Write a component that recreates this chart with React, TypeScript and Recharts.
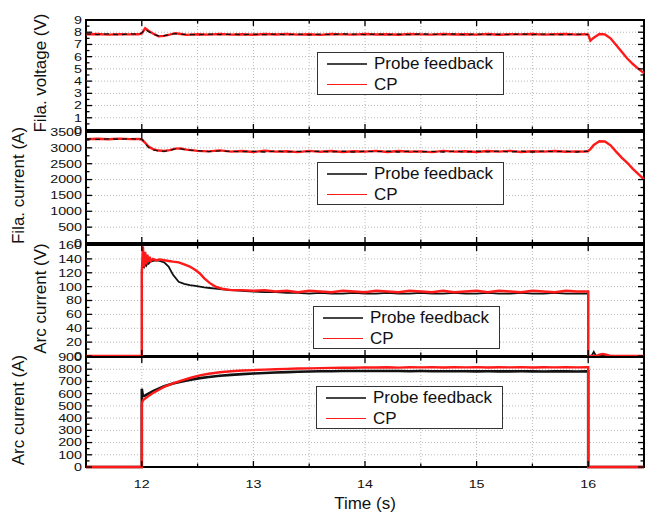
import React from "react";
import {
  LineChart,
  Line,
  XAxis,
  YAxis,
  CartesianGrid,
  ReferenceArea,
  ReferenceLine,
  Legend,
} from "recharts";

const FONT = '"Liberation Sans", Arial, Helvetica, sans-serif';
const W = 645;
const H = 512;
const PLOT_LEFT = 86;
const PLOT_RIGHT = 644;

const seriesNames = ["Probe feedback", "CP"];
const xMajor = [12, 13, 14, 15, 16];
const voltTicks = [0, 1, 2, 3, 4, 5, 6, 7, 8, 9];
const filaCurTicks = [0, 500, 1000, 1500, 2000, 2500, 3000, 3500];
const arcVTicks = [0, 20, 40, 60, 80, 100, 120, 140, 160];
const arcITicks = [0, 100, 200, 300, 400, 500, 600, 700, 800, 900];

// filament panels (voltage + current) share one time base
const filaTime = [
  11.5, 11.6, 11.7, 11.8, 11.9, 11.97, 12.0, 12.03, 12.06, 12.1,
  12.15, 12.2, 12.25, 12.3, 12.35, 12.4, 12.5, 12.6, 12.7, 12.8,
  12.9, 13.0, 13.1, 13.2, 13.3, 13.4, 13.5, 13.6, 13.7, 13.8,
  13.9, 14.0, 14.1, 14.2, 14.3, 14.4, 14.5, 14.6, 14.7, 14.8,
  14.9, 15.0, 15.1, 15.2, 15.3, 15.4, 15.5, 15.6, 15.7, 15.8,
  15.9, 15.97, 16.0, 16.02, 16.05, 16.1, 16.15, 16.2, 16.25, 16.3,
  16.35, 16.4, 16.45, 16.5,
];

const voltCP = [
  7.82, 7.85, 7.8, 7.84, 7.82, 7.83, 7.9, 8.32, 8.12, 7.9,
  7.66, 7.7, 7.8, 7.92, 7.85, 7.78, 7.84, 7.8, 7.86, 7.8,
  7.84, 7.79, 7.85, 7.81, 7.86, 7.8, 7.83, 7.78, 7.85, 7.82,
  7.8, 7.86, 7.81, 7.84, 7.79, 7.85, 7.82, 7.8, 7.86, 7.81,
  7.84, 7.8, 7.85, 7.79, 7.84, 7.82, 7.86, 7.8, 7.83, 7.85,
  7.8, 7.84, 7.8, 7.3, 7.55, 7.85, 7.82, 7.5, 6.95, 6.4,
  5.85, 5.4, 5.0, 4.65,
];

const voltProbe = [
  7.86, 7.81, 7.86, 7.8, 7.87, 7.82, 7.95, 8.25, 8.05, 7.85,
  7.7, 7.72, 7.82, 7.88, 7.82, 7.82, 7.8, 7.85, 7.81, 7.85,
  7.8, 7.84, 7.8, 7.85, 7.8, 7.85, 7.79, 7.84, 7.8, 7.86,
  7.85, 7.8, 7.86, 7.8, 7.84, 7.8, 7.86, 7.84, 7.8, 7.86,
  7.8, 7.85, 7.8, 7.84, 7.8, 7.86, 7.81, 7.85, 7.8, 7.8,
  7.85, 7.8, 7.82, null, null, null, null, null, null, null,
  null, null, null, null,
];

const filaCurCP = [
  3275, 3285, 3270, 3290, 3275, 3280, 3265, 3160, 3040, 2960,
  2915, 2900, 2930, 2975, 2980, 2945, 2905, 2890, 2920, 2880,
  2900, 2870, 2910, 2880, 2895, 2865, 2905, 2875, 2900, 2870,
  2895, 2880, 2905, 2870, 2900, 2875, 2890, 2865, 2905, 2880,
  2895, 2870, 2900, 2880, 2905, 2870, 2895, 2880, 2900, 2875,
  2890, 2880, 2900, 2960, 3090, 3210, 3200, 3080, 2880, 2690,
  2530, 2340, 2170, 2010,
];

const filaCurProbe = [
  3290, 3265, 3285, 3270, 3290, 3270, 3280, 3140, 3010, 2935,
  2900, 2890, 2920, 2965, 2970, 2935, 2915, 2880, 2905, 2890,
  2880, 2890, 2870, 2900, 2870, 2890, 2880, 2895, 2870, 2895,
  2870, 2895, 2880, 2895, 2870, 2895, 2875, 2890, 2870, 2895,
  2870, 2895, 2875, 2900, 2870, 2895, 2870, 2900, 2875, 2895,
  2870, 2895, 2880, null, null, null, null, null, null, null,
  null, null, null, null,
];

const arcVTime = [
  11.5, 12.0, 12.0, 12.01, 12.02, 12.03, 12.04, 12.05, 12.06, 12.07,
  12.08, 12.1, 12.13, 12.16, 12.2, 12.24, 12.28, 12.33, 12.38, 12.43,
  12.48, 12.52, 12.56, 12.61, 12.66, 12.72, 12.8, 12.9, 13.0, 13.1,
  13.2, 13.3, 13.4, 13.5, 13.6, 13.7, 13.8, 13.9, 14.0, 14.1,
  14.2, 14.3, 14.4, 14.5, 14.6, 14.7, 14.8, 14.9, 15.0, 15.1,
  15.2, 15.3, 15.4, 15.5, 15.6, 15.7, 15.8, 15.9, 15.99, 16.0,
  16.0, 16.03, 16.05, 16.07, 16.1, 16.13, 16.16, 16.2, 16.5,
];

const arcVCP = [
  0, 0, 120, 158, 128, 150, 132, 146, 136, 143,
  137, 140, 138, 139, 138, 137, 136, 135, 132, 129,
  124, 119, 112, 105, 100, 97, 95, 95, 94, 95,
  93, 94, 92, 94, 93, 92, 94, 93, 92, 94,
  93, 92, 94, 93, 92, 94, 92, 93, 94, 92,
  94, 93, 92, 94, 93, 92, 94, 93, 93, 93,
  0, 0, 0, 0, 2, 3, 2, 0, 0,
];

const arcVProbe = [
  0, 0, 125, 130, 128, 132, 130, 134, 133, 135,
  136, 137, 138, 137, 135, 129, 117, 107, 104, 102,
  101, 100, 99, 98, 97, 96, 95, 94, 93, 92,
  92, 91, 91, 90, 91, 90, 90, 91, 90, 90,
  91, 90, 90, 91, 90, 90, 91, 90, 90, 91,
  90, 90, 91, 90, 90, 91, 90, 90, 90, 90,
  0, 0, 6, 0, 0, 0, 0, 0, 0,
];

const arcITime = [
  11.5, 12.0, 12.0, 12.01, 12.03, 12.06, 12.1, 12.15, 12.2, 12.28,
  12.36, 12.44, 12.52, 12.6, 12.7, 12.8, 12.9, 13.0, 13.1, 13.2,
  13.3, 13.4, 13.5, 13.6, 13.7, 13.8, 13.9, 14.0, 14.1, 14.2,
  14.3, 14.4, 14.5, 14.6, 14.7, 14.8, 14.9, 15.0, 15.1, 15.2,
  15.3, 15.4, 15.5, 15.6, 15.7, 15.8, 15.9, 15.99, 16.0, 16.0,
  16.5,
];

const arcICP = [
  0, 0, 520, 545, 560, 580, 605, 630, 655, 684,
  708, 730, 750, 763, 775, 783, 789, 793, 797, 800,
  803, 806, 807, 809, 811, 813, 812, 815, 814, 816,
  813, 816, 815, 817, 814, 816, 815, 817, 814, 816,
  815, 817, 814, 816, 815, 817, 815, 816, 816, 0,
  0,
];

const arcIProbe = [
  0, 0, 640, 580, 585, 600, 620, 640, 660, 684,
  700, 714, 727, 737, 746, 754, 760, 765, 769, 773,
  776, 779, 781, 783, 784, 785, 786, 786, 785, 786,
  785, 784, 785, 784, 783, 784, 783, 782, 783, 782,
  782, 783, 782, 781, 782, 782, 781, 782, 782, 0,
  0,
];

function zip(time: number[], probe: (number | null)[], cp: number[]) {
  return time.map((t, i) => ({ t, probe: probe[i], cp: cp[i] }));
}

function withHalves(majors: number[]) {
  const out: number[] = [];
  majors.forEach((m, i) => {
    out.push(m);
    if (i < majors.length - 1) out.push((m + majors[i + 1]) / 2);
  });
  return out;
}

// the source figure has wide, short digits: small font stretched sideways
function TickText({ x, y, anchor, children }: { x: number; y: number; anchor: string; children: any }) {
  return (
    <text
      x={0}
      y={0}
      transform={`translate(${x} ${y}) scale(1.3 1)`}
      textAnchor={anchor}
      dominantBaseline="central"
      fontSize={11}
      fontFamily={FONT}
      fill="#111"
    >
      {children}
    </text>
  );
}

function LegendBox() {
  const colors = ["#444", "#ff1a1a"];
  return (
    <div
      style={{
        width: 187,
        height: 43,
        border: "1.5px solid #333",
        background: "#fff",
        boxSizing: "border-box",
        fontFamily: FONT,
        fontSize: 17,
        color: "#111",
        position: "relative",
      }}
    >
      {seriesNames.map((name, i) => (
        <div
          key={name}
          style={{
            position: "absolute",
            left: 0,
            top: i * 21,
            height: 21,
            display: "flex",
            alignItems: "center",
            whiteSpace: "nowrap",
          }}
        >
          <span
            style={{
              display: "inline-block",
              marginLeft: 9,
              width: 40,
              borderTop: `${i === 0 ? 2 : 1.5}px solid ${colors[i]}`,
            }}
          />
          <span style={{ marginLeft: 7, lineHeight: "21px" }}>{name}</span>
        </div>
      ))}
    </div>
  );
}

interface PanelProps {
  rows: Array<{ t: number; probe: number | null; cp: number }>;
  top: number;
  bottom: number;
  majors: number[];
  title: string;
  titleX: number;
  legendX: number;
  legendY: number;
  probeOnTop: boolean;
  probeWidth: number;
  xLabels?: boolean;
}

function Panel({
  rows,
  top,
  bottom,
  majors,
  title,
  titleX,
  legendX,
  legendY,
  probeOnTop,
  probeWidth,
  xLabels,
}: PanelProps) {
  const yMax = majors[majors.length - 1];
  const yTicks = withHalves(majors);
  const xTicks = withHalves(xMajor);
  const titleY = (top + bottom) / 2 - 2;

  const renderYTick = (p: any) => {
    const v = p.payload.value;
    const y = p.y;
    const major = majors.includes(v);
    const len = major ? 6 : 3.5;
    return (
      <g>
        <line x1={PLOT_LEFT} x2={PLOT_LEFT + len} y1={y} y2={y} stroke="#000" strokeWidth={1.3} />
        <line x1={PLOT_RIGHT} x2={PLOT_RIGHT - len} y1={y} y2={y} stroke="#000" strokeWidth={1.3} />
        {major && (
          <TickText x={PLOT_LEFT - 4} y={y} anchor="end">
            {v}
          </TickText>
        )}
      </g>
    );
  };

  const renderXTick = (p: any) => {
    const v = p.payload.value;
    const x = p.x;
    const major = xMajor.includes(v);
    const len = major ? 6 : 3.5;
    return (
      <g>
        <line x1={x} x2={x} y1={bottom} y2={bottom - len} stroke="#000" strokeWidth={1.3} />
        <line x1={x} x2={x} y1={top} y2={top + len} stroke="#000" strokeWidth={1.3} />
        {xLabels && major && (
          <TickText x={x} y={484} anchor="middle">
            {v}
          </TickText>
        )}
      </g>
    );
  };

  const probeLine = (
    <Line
      key="probe"
      type="linear"
      dataKey="probe"
      stroke="#111"
      strokeWidth={probeWidth}
      strokeDasharray={probeOnTop ? "5 4" : undefined}
      dot={false}
      isAnimationActive={false}
    />
  );
  const cpLine = (
    <Line
      key="cp"
      type="linear"
      dataKey="cp"
      stroke="#ff1a1a"
      strokeWidth={2.4}
      dot={false}
      isAnimationActive={false}
    />
  );

  return (
    <div style={{ position: "absolute", left: 0, top: 0 }}>
      <LineChart
        width={W}
        height={H}
        data={rows}
        margin={{ top, right: W - PLOT_RIGHT, bottom: H - bottom - 2, left: 0 }}
      >
        <ReferenceArea
          x1={11.5}
          x2={16.5}
          y1={0}
          y2={yMax}
          fill="none"
          stroke="#000"
          strokeWidth={2}
          ifOverflow="visible"
        />
        <CartesianGrid horizontal={false} stroke="#b8b8b8" strokeDasharray="1 2" />
        {majors.slice(1, -1).map((v) => (
          <ReferenceLine key={v} y={v} stroke="#b8b8b8" strokeDasharray="1 2" />
        ))}
        <XAxis
          dataKey="t"
          type="number"
          domain={[11.5, 16.5]}
          ticks={xTicks}
          interval={0}
          height={2}
          axisLine={false}
          tickLine={false}
          tick={renderXTick}
          label={
            xLabels
              ? () => (
                  <text
                    x={365}
                    y={503}
                    textAnchor="middle"
                    dominantBaseline="central"
                    fontSize={17}
                    fontFamily={FONT}
                    fill="#111"
                  >
                    Time (s)
                  </text>
                )
              : undefined
          }
        />
        <YAxis
          type="number"
          domain={[0, yMax]}
          ticks={yTicks}
          interval={0}
          width={PLOT_LEFT}
          axisLine={false}
          tickLine={false}
          tick={renderYTick}
          label={() => (
            <text
              x={titleX}
              y={titleY}
              transform={`rotate(-90 ${titleX} ${titleY})`}
              textAnchor="middle"
              dominantBaseline="central"
              fontSize={17}
              fontFamily={FONT}
              fill="#111"
            >
              {title}
            </text>
          )}
        />
        {probeOnTop ? [cpLine, probeLine] : [probeLine, cpLine]}
        <Legend
          layout="vertical"
          align="center"
          verticalAlign="middle"
          wrapperStyle={{ left: legendX, top: legendY, width: 187 }}
          content={() => <LegendBox />}
        />
      </LineChart>
    </div>
  );
}

export default function App() {
  return (
    <div
      style={{
        position: "absolute",
        left: 0,
        top: 0,
        width: W,
        height: H,
        background: "#fff",
        overflow: "hidden",
      }}
    >
      <Panel
        rows={zip(filaTime, voltProbe, voltCP)}
        top={20}
        bottom={130}
        majors={voltTicks}
        title="Fila. voltage (V)"
        titleX={40}
        legendX={317}
        legendY={52}
        probeOnTop
        probeWidth={1.3}
      />
      <Panel
        rows={zip(filaTime, filaCurProbe, filaCurCP)}
        top={132}
        bottom={243}
        majors={filaCurTicks}
        title="Fila. current (A)"
        titleX={18}
        legendX={317}
        legendY={162}
        probeOnTop
        probeWidth={1.3}
      />
      <Panel
        rows={zip(arcVTime, arcVProbe, arcVCP)}
        top={245}
        bottom={356}
        majors={arcVTicks}
        title="Arc current (V)"
        titleX={40}
        legendX={313}
        legendY={306}
        probeOnTop={false}
        probeWidth={1.8}
      />
      <Panel
        rows={zip(arcITime, arcIProbe, arcICP)}
        top={357}
        bottom={467}
        majors={arcITicks}
        title="Arc current (A)"
        titleX={18}
        legendX={316}
        legendY={386}
        probeOnTop={false}
        probeWidth={2.6}
        xLabels
      />
    </div>
  );
}
